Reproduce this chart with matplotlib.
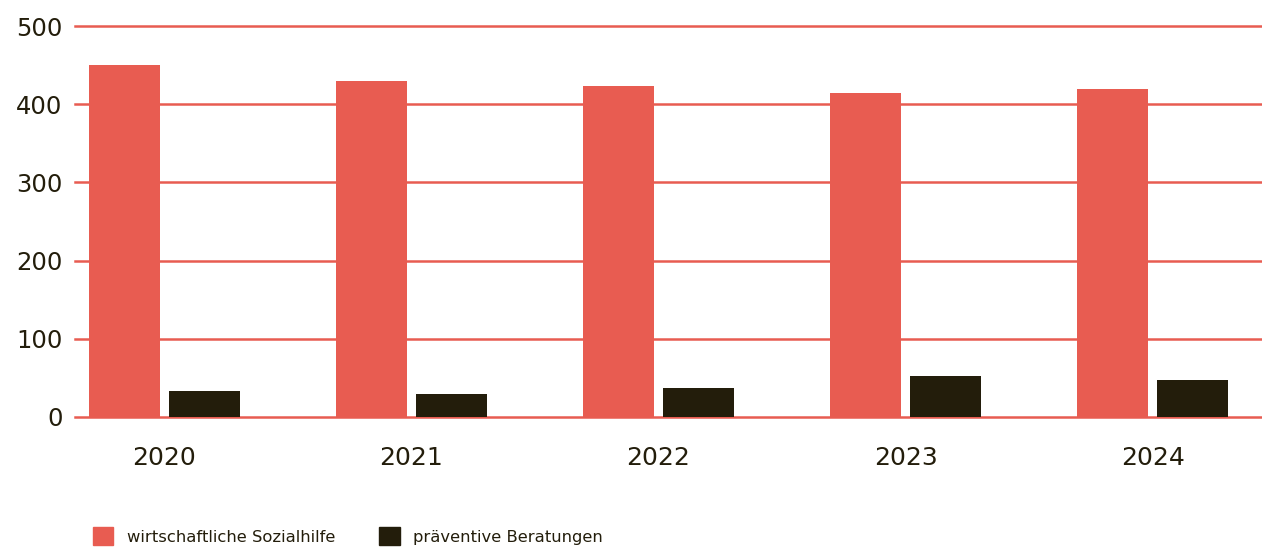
import numpy as np
import matplotlib
matplotlib.use("Agg")
import matplotlib.pyplot as plt
from matplotlib.patches import Patch

# ==============================
# DATEN
# ==============================
jahre = ["2020", "2021", "2022", "2023", "2024"]
sozialhilfe = [450, 430, 423, 414, 419]
beratungen = [33, 29, 37, 52, 47]
serien_namen = ["wirtschaftliche Sozialhilfe", "präventive Beratungen"]
y_ticks = [0, 100, 200, 300, 400, 500]

# ==============================
# STIL
# ==============================
ROT = "#E85C51"
DUNKEL = "#231D0B"
plt.rcParams["font.family"] = ["DejaVu Sans"]

fig = plt.figure(figsize=(12.62, 5.47), dpi=100)
ax = fig.add_axes([75 / 1262, 130 / 547, 1 - 75 / 1262, 391 / 547])

x = np.arange(len(jahre))
breite = 0.287
versatz = 0.162

ax.bar(x - versatz, sozialhilfe, width=breite, color=ROT, zorder=2)
ax.bar(x + versatz, beratungen, width=breite, color=DUNKEL, zorder=2)

for t in y_ticks:
    ax.axhline(t, color=ROT, linewidth=1.8, zorder=1, clip_on=False)

ax.set_xlim(-0.362, 4.443)
ax.set_ylim(0, 500)
ax.set_yticks(y_ticks)
ax.set_xticks(x)
ax.set_xticklabels(jahre)

for s in ax.spines.values():
    s.set_visible(False)
ax.tick_params(axis="both", length=0, labelcolor=DUNKEL)
ax.tick_params(axis="x", pad=21, labelsize=18)
ax.tick_params(axis="y", pad=9, labelsize=17.5)

# ==============================
# LEGENDE
# ==============================
handles = [Patch(color=ROT), Patch(color=DUNKEL)]
fig.legend(
    handles, serien_namen,
    loc="center left", bbox_to_anchor=(93 / 1262, 1 - 536 / 547),
    ncol=2, frameon=False, fontsize=11.8, labelcolor=DUNKEL,
    handlelength=1.25, handleheight=1.25, handletextpad=0.8,
    columnspacing=2.7, borderaxespad=0, borderpad=0,
)

fig.savefig("out.png", dpi=100)
